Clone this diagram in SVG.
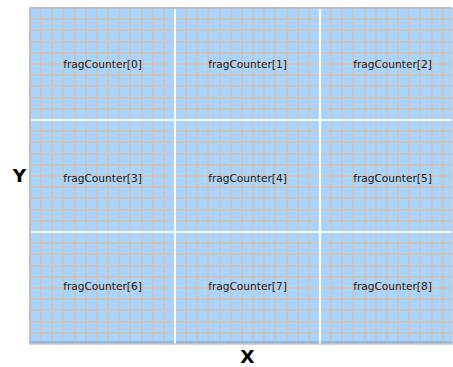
<svg xmlns="http://www.w3.org/2000/svg" width="453" height="367" viewBox="0 0 453 367">
<style>
.grid{stroke:#cbc4be;stroke-width:2;fill:none}
.div{stroke:#ffffff;stroke-width:2;fill:none}
.cell{fill:none;stroke:none}
.lbl{font-family:"DejaVu Sans",Verdana,sans-serif;font-size:10.6px;fill:#1a1a1a;text-anchor:middle}
.axis{font-family:"DejaVu Sans",Verdana,sans-serif;font-size:18.5px;font-weight:bold;fill:#000;text-anchor:middle}
</style>
<defs>
<clipPath id="area"><rect x="30" y="8" width="422" height="336"/></clipPath>
</defs>
<g id="background">
<rect x="30" y="8" width="422" height="336" fill="#a8d4fd"/>
<g clip-path="url(#area)">
<path class="grid" d="M41 8V344M52 8V344M63 8V344M75 8V344M86 8V344M97 8V344M108 8V344M119 8V344M130 8V344M142 8V344M153 8V344M164 8V344M186 8V344M197 8V344M208 8V344M220 8V344M231 8V344M242 8V344M253 8V344M264 8V344M275 8V344M287 8V344M298 8V344M309 8V344M331 8V344M342 8V344M353 8V344M365 8V344M376 8V344M387 8V344M398 8V344M409 8V344M420 8V344M432 8V344M443 8V344"/>
<path class="grid" d="M30 19H452M30 30H452M30 42H452M30 53H452M30 64H452M30 75H452M30 86H452M30 98H452M30 109H452M30 131H452M30 142H452M30 154H452M30 165H452M30 176H452M30 187H452M30 198H452M30 210H452M30 221H452M30 243H452M30 254H452M30 266H452M30 277H452M30 288H452M30 299H452M30 310H452M30 322H452M30 333H452"/>
<rect x="30" y="341" width="422" height="3" fill="#94b8dc"/>
<path class="div" d="M175 8V344M320 8V344M30 120H452M30 232H452"/>
</g>
<path d="M30 344V8H452" fill="none" stroke="#bcbcbc" stroke-width="2"/>
<path d="M29 344H452V8" fill="none" stroke="#c4c4c4" stroke-width="1.5"/>
</g>
<g id="connectors"></g>
<g id="cell0"><rect class="cell" x="30" y="8" width="145" height="112"/><text class="lbl" x="102.5" y="68">fragCounter[0]</text></g>
<g id="cell1"><rect class="cell" x="175" y="8" width="145" height="112"/><text class="lbl" x="247.5" y="68">fragCounter[1]</text></g>
<g id="cell2"><rect class="cell" x="320" y="8" width="145" height="112"/><text class="lbl" x="392.5" y="68">fragCounter[2]</text></g>
<g id="cell3"><rect class="cell" x="30" y="120" width="145" height="112"/><text class="lbl" x="102.5" y="182">fragCounter[3]</text></g>
<g id="cell4"><rect class="cell" x="175" y="120" width="145" height="112"/><text class="lbl" x="247.5" y="182">fragCounter[4]</text></g>
<g id="cell5"><rect class="cell" x="320" y="120" width="145" height="112"/><text class="lbl" x="392.5" y="182">fragCounter[5]</text></g>
<g id="cell6"><rect class="cell" x="30" y="232" width="145" height="112"/><text class="lbl" x="102.5" y="290">fragCounter[6]</text></g>
<g id="cell7"><rect class="cell" x="175" y="232" width="145" height="112"/><text class="lbl" x="247.5" y="290">fragCounter[7]</text></g>
<g id="cell8"><rect class="cell" x="320" y="232" width="145" height="112"/><text class="lbl" x="392.5" y="290">fragCounter[8]</text></g>
<g id="axis-y"><text class="axis" x="19.5" y="182">Y</text></g>
<g id="axis-x"><text class="axis" x="247.5" y="363">X</text></g>
</svg>
